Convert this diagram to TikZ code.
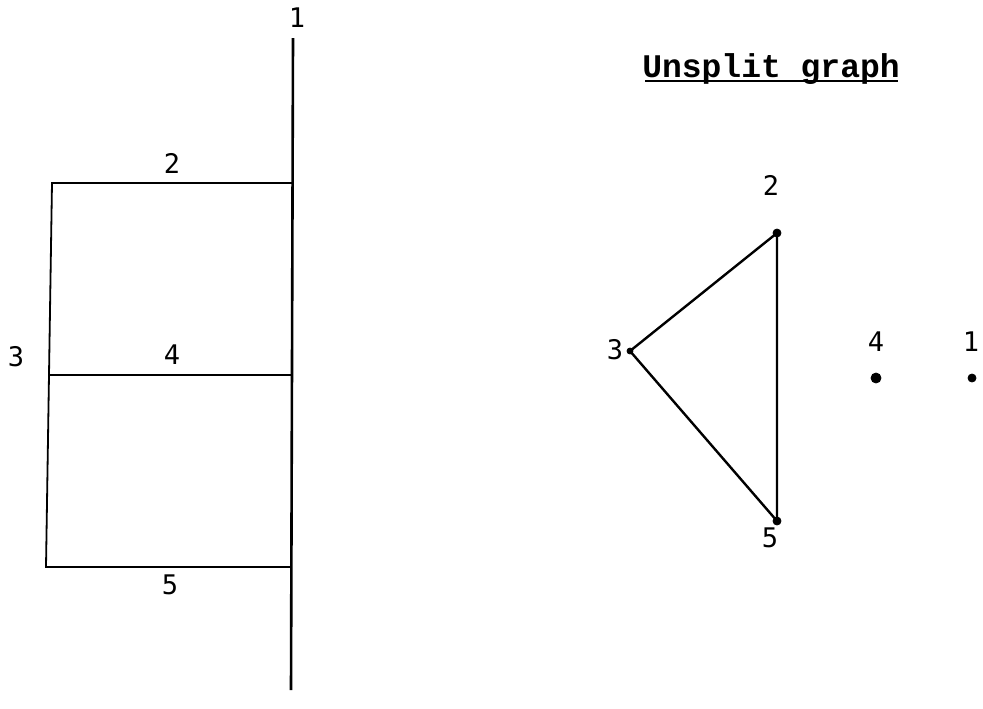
\documentclass[tikz,border=0pt]{standalone}
\usepackage{fontspec}
\newfontfamily\typefont{Liberation Mono}
\newfontfamily\digitfont{DejaVu Sans Mono}
\tikzset{
  num/.style={font=\digitfont\fontsize{13.5}{13.5}\selectfont, inner sep=0pt},
  edge/.style={black, line width=0.9pt},
  vdot/.style={black, fill=black}
}

\begin{document}
\begin{tikzpicture}[x=0.5pt, y=-0.5pt]
\useasboundingbox (0,0) rectangle (983,708);
% split diagram
\coordinate (top) at (293,38);
\coordinate (bot) at (291,690);
\coordinate (a2) at (52,183);  \coordinate (b2) at (293,183);
\coordinate (a4) at (50,375);  \coordinate (b4) at (292,375);
\coordinate (a5) at (46,567);  \coordinate (b5) at (291,567);
\draw[edge, line width=1.3pt] (top) -- (bot);
\draw[edge] (b2) -- (a2) -- (a5) -- (b5);
\draw[edge] (a4) -- (b4);
\node[num] (t1) at (297,18) {1};
\node[num] (t2) at (172,163) {2};
\node[num] (t4) at (172,355) {4};
\node[num] (t5) at (170,585) {5};
\node[num] (t3) at (16,357) {3};
% unsplit graph
\node[font=\typefont\fontsize{16.5}{16.5}\selectfont\bfseries, inner sep=0pt, anchor=base] (title) at (771,77) {Unsplit graph};
\draw[edge, line width=0.8pt] (645,81) coordinate (ul) -- (898,81) coordinate (ur);
\filldraw[vdot] (777,233) circle (2pt) coordinate (v2);
\filldraw[vdot] (630,351) circle (1.5pt) coordinate (v3);
\filldraw[vdot] (777,521) circle (2pt) coordinate (v5);
\filldraw[vdot] (876,378) circle (2.5pt) coordinate (v4);
\filldraw[vdot] (972,378) circle (2pt) coordinate (v1);
\draw[edge, line width=1.2pt] (v2) -- (v3) -- (v5) -- (v2);
\node[num] (n2) at (771,185) {2};
\node[num] (n3) at (615,350) {3};
\node[num] (n5) at (770,538) {5};
\node[num] (n4) at (876,342) {4};
\node[num] (n1) at (971,342) {1};
\end{tikzpicture}
\end{document}
